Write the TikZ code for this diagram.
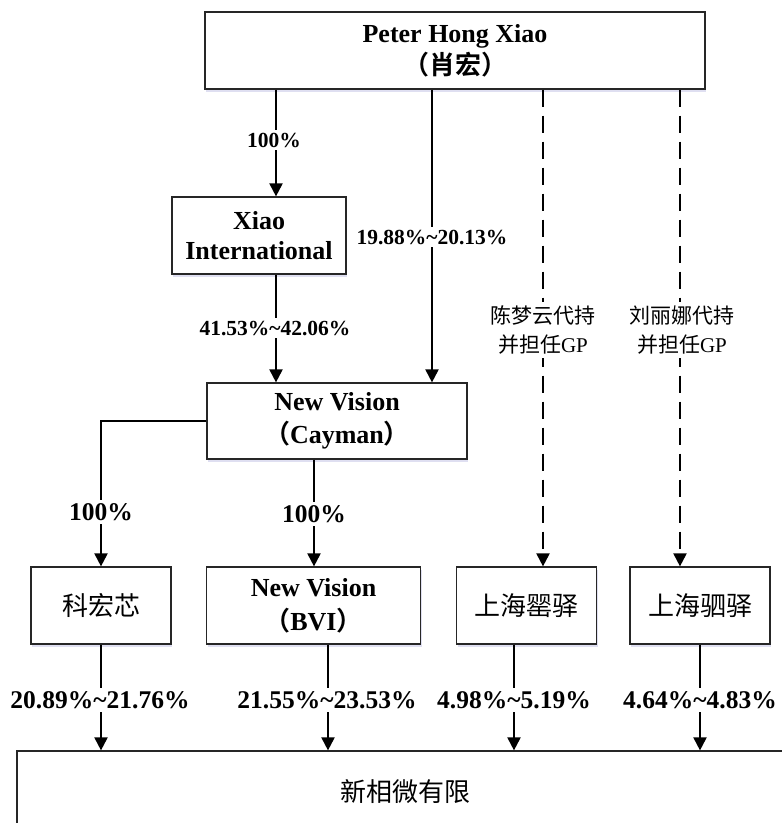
\documentclass[tikz,border=0pt]{standalone}
\usepackage{fontspec}
\setmainfont{Liberation Serif}
\newfontfamily\cjk{Noto Sans CJK SC}[BoldFont={Noto Sans CJK SC Bold}]
\usetikzlibrary{arrows.meta,shadows}
\begin{document}
\begin{tikzpicture}[x=1pt,y=-1pt,
  box/.style={draw=black!85, line width=1.2pt, fill=white, minimum height=77pt, inner sep=0pt, align=center,
    drop shadow={fill=blue!40!gray, opacity=0.18, shadow xshift=1pt, shadow yshift=-3pt}},
  conn/.style={line width=2pt, -{Triangle[length=13pt,width=13pt]}},
  dconn/.style={conn, dash pattern=on 17pt off 9pt},
  pct/.style={fill=white, font=\bfseries\fontsize{25.5}{28}\selectfont, inner sep=3pt},
  spct/.style={fill=white, font=\bfseries\fontsize{21.5}{24}\selectfont, inner sep=3pt},
  lbl/.style={fill=white, font=\fontsize{21}{29}\selectfont, align=center, inner sep=4pt},
  bigb/.style={font=\bfseries\fontsize{26}{32}\selectfont},
  cjkt/.style={font=\cjk\fontsize{26}{30}\selectfont}
]
\useasboundingbox (0,0) rectangle (782,823);
\begin{scope}
\clip (0,0) rectangle (782,823);
% boxes
\node[box, bigb, minimum width=500pt] (top) at (455,50.5) {Peter Hong Xiao\\{\cjk （肖宏）}};
\node[box, minimum width=174pt, font=\bfseries\fontsize{26}{30}\selectfont] (xiao) at (259,235.5) {Xiao\\International};
\node[box, minimum width=260pt, minimum height=76pt, font=\bfseries\fontsize{26}{33}\selectfont] (cay) at (337,421) {New Vision\\{\cjk （}Cayman{\cjk ）}};
\node[box, cjkt, minimum width=140pt] (khx) at (101,605.5) {科宏芯};
\node[box, minimum width=214pt, font=\bfseries\fontsize{26}{34}\selectfont] (bvi) at (313.5,605.5) {New Vision\\{\cjk （}BVI{\cjk ）}};
\node[box, cjkt, minimum width=140pt] (sh1) at (526.5,605.5) {上海罂驿};
\node[box, cjkt, minimum width=140pt] (sh2) at (700,605.5) {上海驷驿};
\node[box, cjkt, minimum width=776pt, minimum height=82pt] (bot) at (405,792) {新相微有限};
% connectors from top
\draw[conn] (276,0 |- top.south) -- (276,0 |- xiao.north);
\node[spct] (l1) at (274,140) {100\%};
\draw[conn] (432,0 |- top.south) -- (432,0 |- cay.north);
\node[spct] (l2) at (432,237) {19.88\%\textasciitilde20.13\%};
\draw[conn] (276,0 |- xiao.south) -- (276,0 |- cay.north);
\node[spct] (l3) at (275,328) {41.53\%\textasciitilde42.06\%};
\draw[dconn] (543,0 |- top.south) -- (543,0 |- sh1.north);
\node[lbl] (l4) at (543,330) {{\cjk 陈梦云代持}\\{\cjk 并担任}GP};
\draw[dconn] (680,0 |- top.south) -- (680,0 |- sh2.north);
\node[lbl] (l5) at (682,330) {{\cjk 刘丽娜代持}\\{\cjk 并担任}GP};
% from cayman
\draw[conn] (cay.west) -| (khx.north);
\node[pct] (l6) at (101,512) {100\%};
\draw[conn] (314,0 |- cay.south) -- (314,0 |- bvi.north);
\node[pct] (l7) at (314,514) {100\%};
% to bottom
\draw[conn] (khx.south) -- (khx.south |- bot.north);
\node[pct] (l8) at (100,700) {20.89\%\textasciitilde21.76\%};
\draw[conn] (328,0 |- bvi.south) -- (328,0 |- bot.north);
\node[pct] (l9) at (327,700) {21.55\%\textasciitilde23.53\%};
\draw[conn] (514,0 |- sh1.south) -- (514,0 |- bot.north);
\node[pct] (l10) at (514,700) {4.98\%\textasciitilde5.19\%};
\draw[conn] (700,0 |- sh2.south) -- (700,0 |- bot.north);
\node[pct] (l11) at (700,700) {4.64\%\textasciitilde4.83\%};
\end{scope}
\end{tikzpicture}
\end{document}
